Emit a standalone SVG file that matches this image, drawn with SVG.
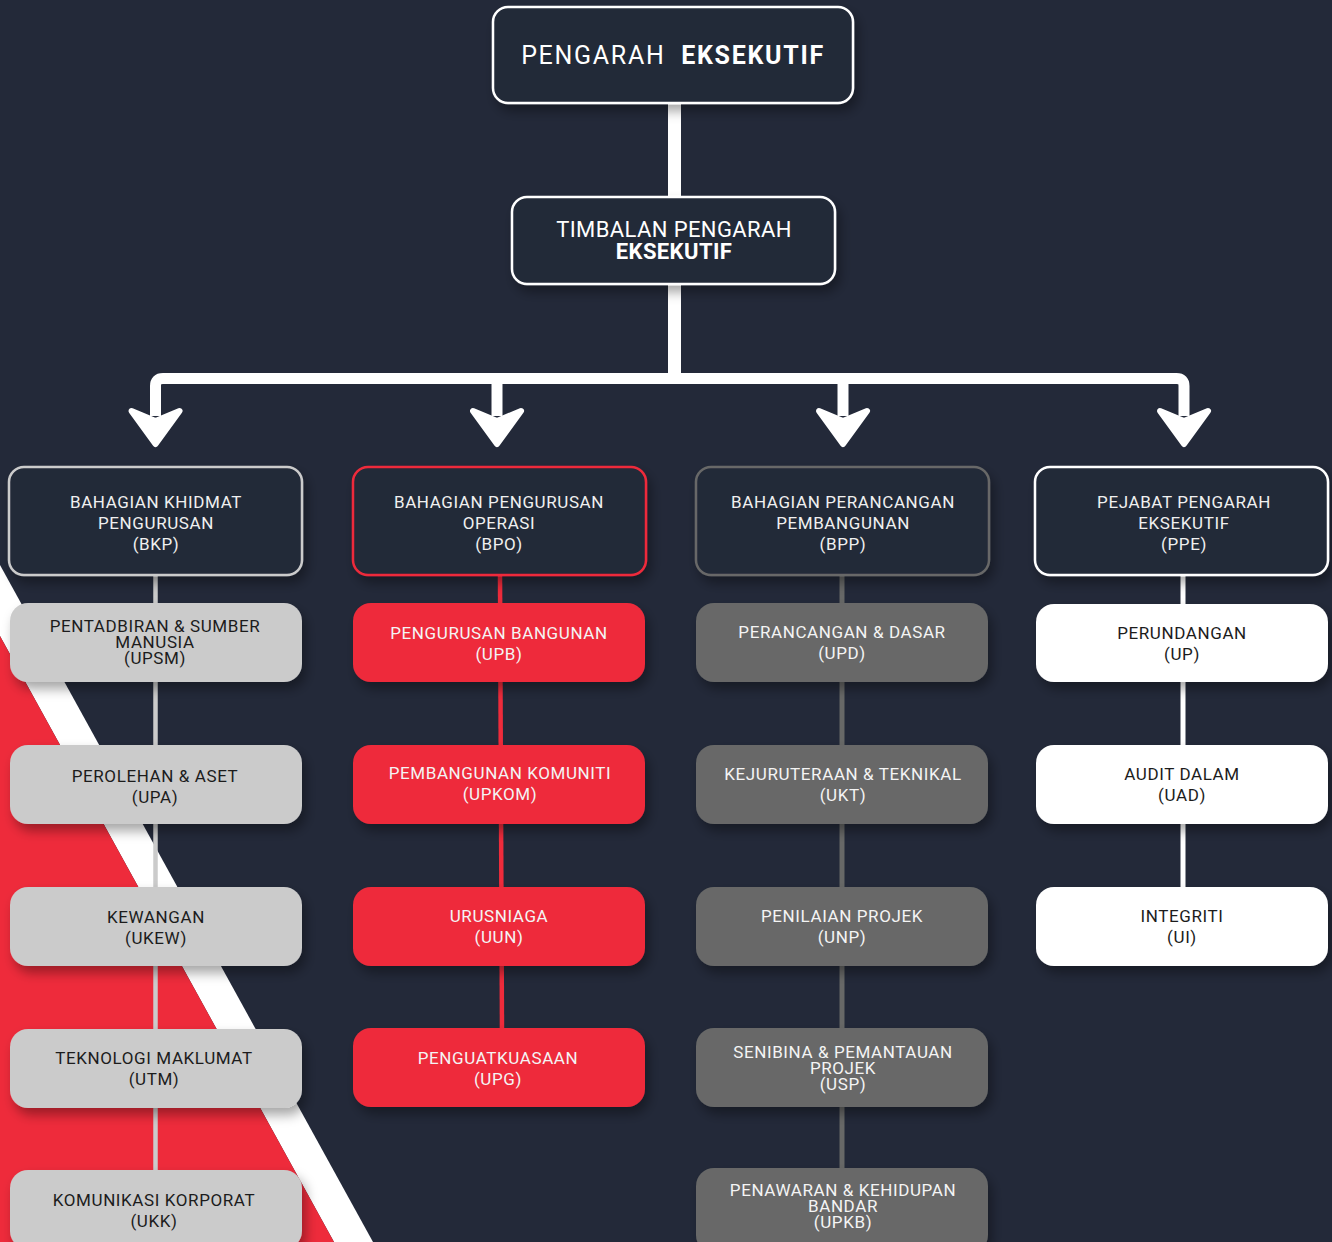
<svg xmlns="http://www.w3.org/2000/svg" width="1332" height="1242" viewBox="0 0 1332 1242">
<defs>
<filter id="sh" x="-20%" y="-30%" width="150%" height="180%">
<feDropShadow dx="4" dy="7" stdDeviation="6" flood-color="#000" flood-opacity="0.35"/>
</filter>
<path id="ah" d="M-24,-4 L0,29 L24,-4 L0,6 Z" fill="#fff" stroke="#fff" stroke-width="6" stroke-linejoin="round"/>
</defs>
<style>
text{font-family:Roboto,"Liberation Sans",sans-serif;text-anchor:middle;letter-spacing:0.6px}
.t1{font-size:25px;fill:#fff;letter-spacing:1.7px}
.t2{font-size:22px;fill:#fff;letter-spacing:0.4px}
.t3{font-size:17px;fill:#f0f0f0}
.t4{font-size:17px}
.b{font-weight:bold}
.dk{fill:#1c1c1c}
.lt{fill:#f4f4f4}
.top{fill:#232939;stroke:#fff;stroke-width:2.5}
.l2{fill:#232939;stroke-width:2.5}
.c1{fill:#cbcbcb}
.c2{fill:#ee2b3b}
.c3{fill:#676867}
.c4{fill:#fff}
</style>
<rect width="1332" height="1242" fill="#232939"/>
<polygon points="0,565 0,636 334,1242 373,1242" fill="#fff"/>
<polygon points="0,636 334,1242 0,1242" fill="#ee2b3b"/>

<g id="connectors">
<rect x="668" y="100" width="13" height="100" fill="#fff"/>
<rect x="668" y="280" width="13" height="98" fill="#fff"/>
<path d="M155.5,416 V386 Q155.5,378.5 163,378.5 H1176.5 Q1184,378.5 1184,386 V416" fill="none" stroke="#fff" stroke-width="11"/>
<line x1="497" y1="378" x2="497" y2="416" stroke="#fff" stroke-width="11"/>
<line x1="843" y1="378" x2="843" y2="416" stroke="#fff" stroke-width="11"/>
<use href="#ah" x="155.5" y="415"/>
<use href="#ah" x="497" y="415"/>
<use href="#ah" x="843" y="415"/>
<use href="#ah" x="1184" y="415"/>
<line x1="155.5" y1="575" x2="155.5" y2="1175" stroke="#cbcbcb" stroke-width="4.5"/>
<line x1="500" y1="575" x2="502" y2="1035" stroke="#ee2b3b" stroke-width="4.5"/>
<line x1="842" y1="575" x2="842" y2="1175" stroke="#676867" stroke-width="5"/>
<line x1="1183" y1="575" x2="1183" y2="892" stroke="#fff" stroke-width="5"/>
</g>

<g id="pengarah">
<rect class="top" x="493" y="7" width="360" height="96" rx="15" filter="url(#sh)"/>
<text class="t1" x="673" y="64" xml:space="preserve">PENGARAH  <tspan class="b">EKSEKUTIF</tspan></text>
</g>
<g id="timbalan">
<rect class="top" x="512" y="197" width="323" height="87" rx="15" filter="url(#sh)"/>
<text class="t2" x="674" y="237">TIMBALAN PENGARAH</text>
<text class="t2 b" x="674" y="259">EKSEKUTIF</text>
</g>

<g id="bkp">
<rect class="l2" x="9" y="467" width="293" height="108" rx="15" stroke="#cbcbcb" filter="url(#sh)"/>
<text class="t3" x="156" y="508">BAHAGIAN KHIDMAT</text>
<text class="t3" x="156" y="529">PENGURUSAN</text>
<text class="t3" x="156" y="550">(BKP)</text>
</g>
<g id="bpo">
<rect class="l2" x="353" y="467" width="293" height="108" rx="15" stroke="#ee2b3b" filter="url(#sh)"/>
<text class="t3" x="499" y="508">BAHAGIAN PENGURUSAN</text>
<text class="t3" x="499" y="529">OPERASI</text>
<text class="t3" x="499" y="550">(BPO)</text>
</g>
<g id="bpp">
<rect class="l2" x="696" y="467" width="293" height="108" rx="15" stroke="#676867" filter="url(#sh)"/>
<text class="t3" x="843" y="508">BAHAGIAN PERANCANGAN</text>
<text class="t3" x="843" y="529">PEMBANGUNAN</text>
<text class="t3" x="843" y="550">(BPP)</text>
</g>
<g id="ppe">
<rect class="l2" x="1035" y="467" width="293" height="108" rx="15" stroke="#fff" filter="url(#sh)"/>
<text class="t3" x="1184" y="508">PEJABAT PENGARAH</text>
<text class="t3" x="1184" y="529">EKSEKUTIF</text>
<text class="t3" x="1184" y="550">(PPE)</text>
</g>

<g id="upsm">
<rect class="c1" x="10" y="603" width="292" height="79" rx="18" filter="url(#sh)"/>
<text class="t4 dk" x="155" y="632">PENTADBIRAN &amp; SUMBER</text>
<text class="t4 dk" x="155" y="648">MANUSIA</text>
<text class="t4 dk" x="155" y="664">(UPSM)</text>
</g>
<g id="upa">
<rect class="c1" x="10" y="745" width="292" height="79" rx="18" filter="url(#sh)"/>
<text class="t4 dk" x="155" y="782">PEROLEHAN &amp; ASET</text>
<text class="t4 dk" x="155" y="803">(UPA)</text>
</g>
<g id="ukew">
<rect class="c1" x="10" y="887" width="292" height="79" rx="18" filter="url(#sh)"/>
<text class="t4 dk" x="156" y="923">KEWANGAN</text>
<text class="t4 dk" x="156" y="944">(UKEW)</text>
</g>
<g id="utm">
<rect class="c1" x="10" y="1029" width="292" height="79" rx="18" filter="url(#sh)"/>
<text class="t4 dk" x="154" y="1064">TEKNOLOGI MAKLUMAT</text>
<text class="t4 dk" x="154" y="1085">(UTM)</text>
</g>
<g id="ukk">
<rect class="c1" x="10" y="1170" width="292" height="79" rx="18" filter="url(#sh)"/>
<text class="t4 dk" x="154" y="1206">KOMUNIKASI KORPORAT</text>
<text class="t4 dk" x="154" y="1227">(UKK)</text>
</g>

<g id="upb">
<rect class="c2" x="353" y="603" width="292" height="79" rx="18" filter="url(#sh)"/>
<text class="t4 lt" x="499" y="639">PENGURUSAN BANGUNAN</text>
<text class="t4 lt" x="499" y="660">(UPB)</text>
</g>
<g id="upkom">
<rect class="c2" x="353" y="745" width="292" height="79" rx="18" filter="url(#sh)"/>
<text class="t4 lt" x="500" y="779">PEMBANGUNAN KOMUNITI</text>
<text class="t4 lt" x="500" y="800">(UPKOM)</text>
</g>
<g id="uun">
<rect class="c2" x="353" y="887" width="292" height="79" rx="18" filter="url(#sh)"/>
<text class="t4 lt" x="499" y="922">URUSNIAGA</text>
<text class="t4 lt" x="499" y="943">(UUN)</text>
</g>
<g id="upg">
<rect class="c2" x="353" y="1028" width="292" height="79" rx="18" filter="url(#sh)"/>
<text class="t4 lt" x="498" y="1064">PENGUATKUASAAN</text>
<text class="t4 lt" x="498" y="1085">(UPG)</text>
</g>

<g id="upd">
<rect class="c3" x="696" y="603" width="292" height="79" rx="18" filter="url(#sh)"/>
<text class="t4 lt" x="842" y="638">PERANCANGAN &amp; DASAR</text>
<text class="t4 lt" x="842" y="659">(UPD)</text>
</g>
<g id="ukt">
<rect class="c3" x="696" y="745" width="292" height="79" rx="18" filter="url(#sh)"/>
<text class="t4 lt" x="843" y="780">KEJURUTERAAN &amp; TEKNIKAL</text>
<text class="t4 lt" x="843" y="801">(UKT)</text>
</g>
<g id="unp">
<rect class="c3" x="696" y="887" width="292" height="79" rx="18" filter="url(#sh)"/>
<text class="t4 lt" x="842" y="922">PENILAIAN PROJEK</text>
<text class="t4 lt" x="842" y="943">(UNP)</text>
</g>
<g id="usp">
<rect class="c3" x="696" y="1028" width="292" height="79" rx="18" filter="url(#sh)"/>
<text class="t4 lt" x="843" y="1058">SENIBINA &amp; PEMANTAUAN</text>
<text class="t4 lt" x="843" y="1074">PROJEK</text>
<text class="t4 lt" x="843" y="1090">(USP)</text>
</g>
<g id="upkb">
<rect class="c3" x="696" y="1168" width="292" height="85" rx="18" filter="url(#sh)"/>
<text class="t4 lt" x="843" y="1196">PENAWARAN &amp; KEHIDUPAN</text>
<text class="t4 lt" x="843" y="1212">BANDAR</text>
<text class="t4 lt" x="843" y="1228">(UPKB)</text>
</g>

<g id="up">
<rect class="c4" x="1036" y="604" width="292" height="78" rx="18" filter="url(#sh)"/>
<text class="t4 dk" x="1182" y="639">PERUNDANGAN</text>
<text class="t4 dk" x="1182" y="660">(UP)</text>
</g>
<g id="uad">
<rect class="c4" x="1036" y="745" width="292" height="79" rx="18" filter="url(#sh)"/>
<text class="t4 dk" x="1182" y="780">AUDIT DALAM</text>
<text class="t4 dk" x="1182" y="801">(UAD)</text>
</g>
<g id="ui">
<rect class="c4" x="1036" y="887" width="292" height="79" rx="18" filter="url(#sh)"/>
<text class="t4 dk" x="1182" y="922">INTEGRITI</text>
<text class="t4 dk" x="1182" y="943">(UI)</text>
</g>
</svg>
